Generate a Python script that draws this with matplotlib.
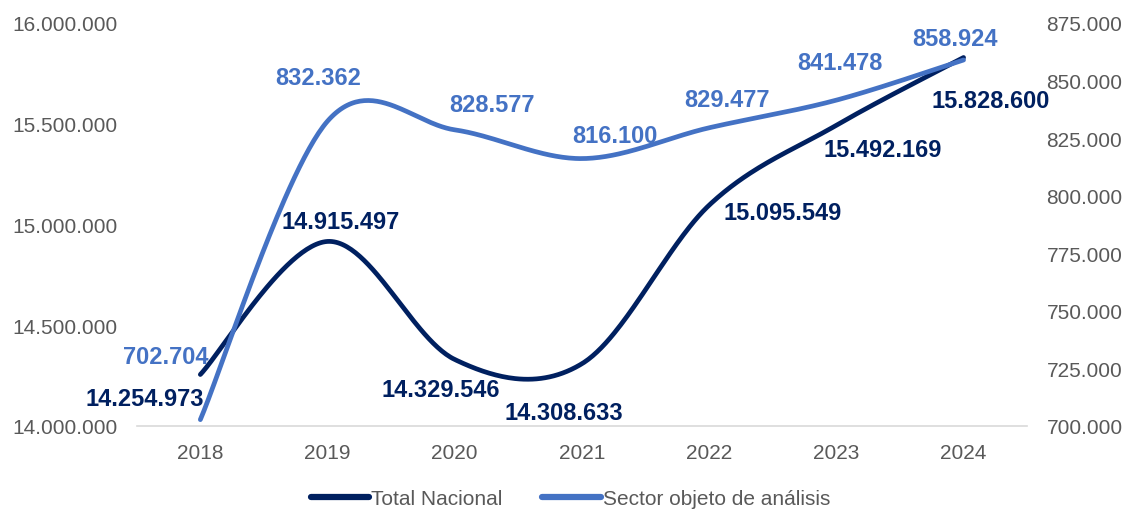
import numpy as np
import matplotlib
matplotlib.use("Agg")
import matplotlib.pyplot as plt

years = ["2018", "2019", "2020", "2021", "2022", "2023", "2024"]
total_nacional = [14254973, 14915497, 14329546, 14308633, 15095549, 15492169, 15828600]
sector = [702704, 832362, 828577, 816100, 829477, 841478, 858924]

left_ticks = [14000000, 14500000, 15000000, 15500000, 16000000]
right_ticks = [700000, 725000, 750000, 775000, 800000, 825000, 850000, 875000]

# label offsets in pixels (dx, dy), hand-placed like the original
off_total = [(-56, -24), (13, 20), (-14, -30), (-18, -49), (73, -7), (46, -24), (27, -43)]
off_sector = [(-35, 63), (-9, 44), (37, 25), (33, 23), (18, 28), (4, 38), (-9, 21)]

NAVY = "#002060"
LIGHT = "#4472C4"
GREY = "#595959"

plt.rcParams["font.family"] = ["Liberation Sans", "DejaVu Sans"]


def fmt(v):
    return f"{v:,.0f}".replace(",", ".")


def smooth(xs, ys, n=60):
    """Bezier smoothing like Excel (Catmull-Rom)."""
    xs = np.asarray(xs, float)
    ys = np.asarray(ys, float)
    px = np.concatenate([[xs[0]], xs, [xs[-1]]])
    py = np.concatenate([[ys[0]], ys, [ys[-1]]])
    outx, outy = [], []
    t = np.linspace(0, 1, n)
    for i in range(1, len(xs)):
        p0 = np.array([px[i], py[i]])
        p3 = np.array([px[i + 1], py[i + 1]])
        c1 = p0 + (p3 - np.array([px[i - 1], py[i - 1]])) / 6
        c2 = p3 - (np.array([px[i + 2], py[i + 2]]) - p0) / 6
        b = ((1 - t) ** 3)[:, None] * p0 + (3 * (1 - t) ** 2 * t)[:, None] * c1 \
            + (3 * (1 - t) * t ** 2)[:, None] * c2 + (t ** 3)[:, None] * p3
        outx.extend(b[:, 0])
        outy.extend(b[:, 1])
    return np.array(outx), np.array(outy)


fig = plt.figure(figsize=(11.3, 5.1), dpi=100)
ax = fig.add_axes([0.121, 0.163, 0.788, 0.79])
ax2 = ax.twinx()

x = np.arange(len(years))
sx, sy = smooth(x, total_nacional)
l1, = ax.plot(sx, sy, color=NAVY, lw=3.4, solid_capstyle="round", zorder=3)
sx2, sy2 = smooth(x, sector)
l2, = ax2.plot(sx2, sy2, color=LIGHT, lw=3.4, solid_capstyle="round", zorder=3)

ax.set_xlim(-0.5, len(years) - 0.5)
ax.set_ylim(14000000, 16000000)
ax2.set_ylim(700000, 875000)
ax.set_xticks(x)
ax.set_xticklabels(years)
ax.set_yticks(left_ticks)
ax.set_yticklabels([fmt(v) for v in left_ticks])
ax2.set_yticks(right_ticks)
ax2.set_yticklabels([fmt(v) for v in right_ticks])

for a in (ax, ax2):
    for s in a.spines.values():
        s.set_visible(False)
    a.tick_params(length=0, labelsize=15, colors=GREY)
ax.spines["bottom"].set_visible(True)
ax.spines["bottom"].set_color("#D9D9D9")
ax.spines["bottom"].set_linewidth(1.2)
ax.tick_params(axis="x", pad=12)
ax.tick_params(axis="y", pad=14)
ax2.tick_params(axis="y", pad=14)

for i, v in enumerate(total_nacional):
    ax.annotate(fmt(v), (x[i], v), xytext=off_total[i], textcoords="offset pixels",
                ha="center", va="center", fontsize=17, fontweight="bold", color=NAVY,
                zorder=5)
for i, v in enumerate(sector):
    ax2.annotate(fmt(v), (x[i], v), xytext=off_sector[i], textcoords="offset pixels",
                 ha="center", va="center", fontsize=17, fontweight="bold", color=LIGHT,
                 zorder=5)

leg = fig.legend([l1, l2], ["Total Nacional", "Sector objeto de análisis"],
                 loc="center", bbox_to_anchor=(0.505, 0.02), ncol=2, frameon=False,
                 fontsize=15, handlelength=2.8, handletextpad=0.1, columnspacing=1.9)
for t in leg.get_texts():
    t.set_color(GREY)
for h in leg.legend_handles:
    h.set_linewidth(4.5)
    h.set_solid_capstyle("round")

fig.savefig("out.png", dpi=100)
